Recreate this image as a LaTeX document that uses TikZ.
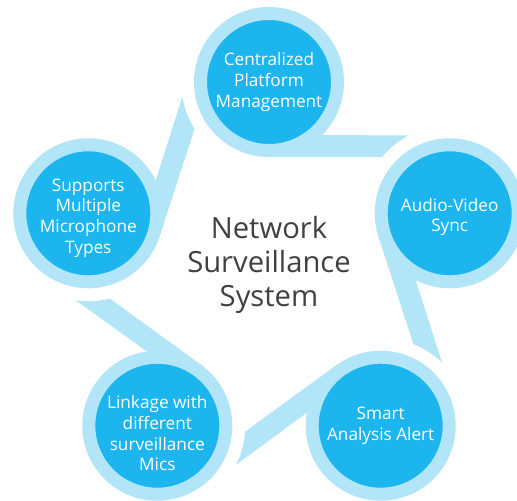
\documentclass[tikz,border=0pt]{standalone}
\usepackage{fontspec}
\setmainfont{Open Sans}
\usepackage{xcolor}
\usepackage{tikz}
\usetikzlibrary{calc}
\usetikzlibrary{backgrounds}
\definecolor{ringblue}{HTML}{B3E5F9}
\definecolor{coreblue}{HTML}{1CB5ED}
\definecolor{hubgray}{HTML}{404040}
\tikzstyle{topic} = [circle, draw=ringblue, line width=9.75pt, fill=coreblue,
    text=white, minimum size=102.75pt, inner sep=0pt, align=center,
    font=\fontsize{12.9}{15.5}\selectfont]
\tikzstyle{hub} = [text=hubgray, align=center,
    font=\fontsize{21.9}{25.5}\selectfont]
\tikzstyle{tail} = [fill=ringblue]
% text set a little below the middle of its circle
\newcommand{\droptext}[2]{\raisebox{-#1}[\height][\depth]{%
  \begin{tabular}{@{}c@{}}#2\end{tabular}}}

\begin{document}
\begin{tikzpicture}[x=0.75pt, y=0.75pt]
  \useasboundingbox (-269,-228) rectangle (248,272);
  \clip (-269,-228) rectangle (248,272);
  % Place nodes
  \node [hub] (system) at (0,7) {Network\\Surveillance\\System};
  \node [topic] (platform) at (90:190) {Centralized\\Platform\\Management};
  \node [topic] (sync) at (18:190) {\droptext{3pt}{Audio-Video\\Sync}};
  \node [topic] (alert) at (-54:190) {Smart\\Analysis Alert};
  \node [topic] (linkage) at (-126:190) {\droptext{7.5pt}{Linkage with\\different\\surveillance\\Mics}};
  \node [topic] (mics) at (162:190) {\droptext{3.5pt}{Supports\\Multiple\\Microphone\\Types}};

  % Draw tails
  % each tail stops on an arc round the next node
  \begin{pgfonlayer}{background}
  \path [tail] (platform.-90) -- ($(sync)+(140.2:88)$)
    arc [start angle=140.2, end angle=117.8, radius=88] -- (platform.-45.5) -- cycle;
  \path [tail] (sync.-162) -- ($(alert)+(68.2:88)$)
    arc [start angle=68.2, end angle=45.8, radius=88] -- (sync.-117.5) -- cycle;
  \path [tail] (alert.126) -- ($(linkage)+(-3.8:88)$)
    arc [start angle=-3.8, end angle=-26.2, radius=88] -- (alert.170.5) -- cycle;
  \path [tail] (linkage.54) -- ($(mics)+(-75.8:88)$)
    arc [start angle=-75.8, end angle=-98.2, radius=88] -- (linkage.98.5) -- cycle;
  \path [tail] (mics.-18) -- ($(platform)+(212.2:88)$)
    arc [start angle=212.2, end angle=189.8, radius=88] -- (mics.26.5) -- cycle;
  \end{pgfonlayer}
\end{tikzpicture}
\end{document}
